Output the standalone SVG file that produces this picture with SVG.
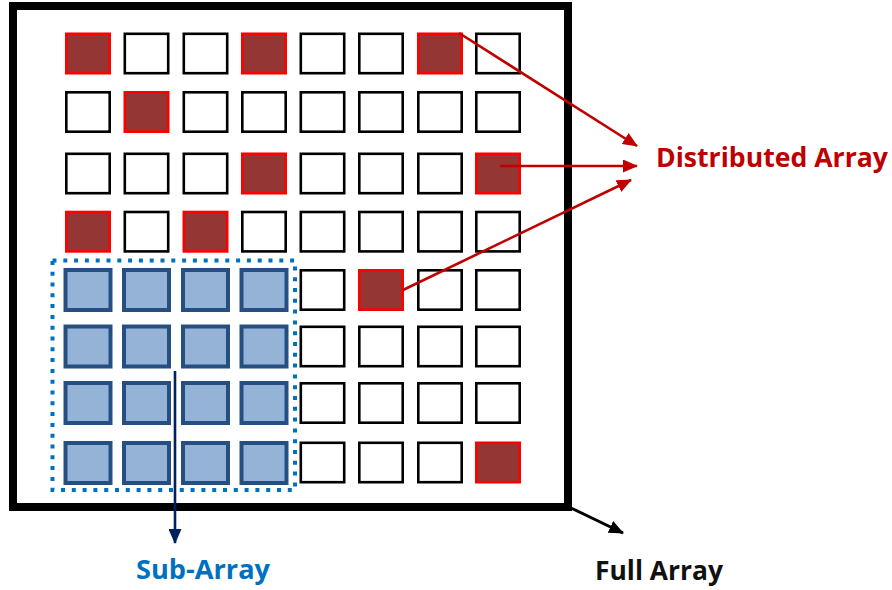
<svg xmlns="http://www.w3.org/2000/svg" width="892" height="590" viewBox="0 0 892 590">
  <style>
    .c { fill: #ffffff; stroke: #000000; stroke-width: 2.6; }
    .r { fill: #943634; stroke: #ff0000; stroke-width: 2.6; }
    .b { fill: #95b3d7; stroke: #254f80; stroke-width: 4; }
    .lbl { font-family: "Open Sans", "Liberation Sans", sans-serif; font-weight: bold; font-size: 26px; }
  </style>
  <defs>
    <marker id="ar" markerUnits="userSpaceOnUse" markerWidth="15" markerHeight="13" refX="14" refY="6.5" orient="auto">
      <path d="M0,0 L15,6.5 L0,13 Z" fill="#c00000"/>
    </marker>
    <marker id="an" markerUnits="userSpaceOnUse" markerWidth="15" markerHeight="13" refX="14" refY="6.5" orient="auto">
      <path d="M0,0 L15,6.5 L0,13 Z" fill="#002060"/>
    </marker>
    <marker id="ak" markerUnits="userSpaceOnUse" markerWidth="15" markerHeight="13" refX="14" refY="6.5" orient="auto">
      <path d="M0,0 L15,6.5 L0,13 Z" fill="#000000"/>
    </marker>
    <rect id="cell" x="-21.7" y="-19.7" width="43.4" height="39.4"/>
    <rect id="bcell" x="-22.5" y="-20" width="45" height="40"/>
  </defs>

  <g id="full-array">
    <rect x="13" y="6" width="555" height="501" fill="#ffffff" stroke="#000000" stroke-width="8"/>
  </g>

  <g id="grid">
    <!-- row 1 -->
    <use href="#cell" class="r" x="88" y="53.5"/>
    <use href="#cell" class="c" x="146.5" y="53.5"/>
    <use href="#cell" class="c" x="205.5" y="53.5"/>
    <use href="#cell" class="r" x="264" y="53.5"/>
    <use href="#cell" class="c" x="322.5" y="53.5"/>
    <use href="#cell" class="c" x="381" y="53.5"/>
    <use href="#cell" class="r" x="440" y="53.5"/>
    <use href="#cell" class="c" x="498" y="53.5"/>
    <!-- row 2 -->
    <use href="#cell" class="c" x="88" y="112"/>
    <use href="#cell" class="r" x="146.5" y="112"/>
    <use href="#cell" class="c" x="205.5" y="112"/>
    <use href="#cell" class="c" x="264" y="112"/>
    <use href="#cell" class="c" x="322.5" y="112"/>
    <use href="#cell" class="c" x="381" y="112"/>
    <use href="#cell" class="c" x="440" y="112"/>
    <use href="#cell" class="c" x="498" y="112"/>
    <!-- row 3 -->
    <use href="#cell" class="c" x="88" y="173.5"/>
    <use href="#cell" class="c" x="146.5" y="173.5"/>
    <use href="#cell" class="c" x="205.5" y="173.5"/>
    <use href="#cell" class="r" x="264" y="173.5"/>
    <use href="#cell" class="c" x="322.5" y="173.5"/>
    <use href="#cell" class="c" x="381" y="173.5"/>
    <use href="#cell" class="c" x="440" y="173.5"/>
    <use href="#cell" class="r" x="498" y="173.5"/>
    <!-- row 4 -->
    <use href="#cell" class="r" x="88" y="231.7"/>
    <use href="#cell" class="c" x="146.5" y="231.7"/>
    <use href="#cell" class="r" x="205.5" y="231.7"/>
    <use href="#cell" class="c" x="264" y="231.7"/>
    <use href="#cell" class="c" x="322.5" y="231.7"/>
    <use href="#cell" class="c" x="381" y="231.7"/>
    <use href="#cell" class="c" x="440" y="231.7"/>
    <use href="#cell" class="c" x="498" y="231.7"/>
    <!-- row 5 -->
    <use href="#cell" class="c" x="322.5" y="290"/>
    <use href="#cell" class="r" x="381" y="290"/>
    <use href="#cell" class="c" x="440" y="290"/>
    <use href="#cell" class="c" x="498" y="290"/>
    <!-- row 6 -->
    <use href="#cell" class="c" x="322.5" y="346.5"/>
    <use href="#cell" class="c" x="381" y="346.5"/>
    <use href="#cell" class="c" x="440" y="346.5"/>
    <use href="#cell" class="c" x="498" y="346.5"/>
    <!-- row 7 -->
    <use href="#cell" class="c" x="322.5" y="403"/>
    <use href="#cell" class="c" x="381" y="403"/>
    <use href="#cell" class="c" x="440" y="403"/>
    <use href="#cell" class="c" x="498" y="403"/>
    <!-- row 8 -->
    <use href="#cell" class="c" x="322.5" y="462.5"/>
    <use href="#cell" class="c" x="381" y="462.5"/>
    <use href="#cell" class="c" x="440" y="462.5"/>
    <use href="#cell" class="r" x="498" y="462.5"/>
  </g>

  <g id="sub-array">
    <use href="#bcell" class="b" x="88" y="290"/>
    <use href="#bcell" class="b" x="146.5" y="290"/>
    <use href="#bcell" class="b" x="205.5" y="290"/>
    <use href="#bcell" class="b" x="264" y="290"/>
    <use href="#bcell" class="b" x="88" y="346.5"/>
    <use href="#bcell" class="b" x="146.5" y="346.5"/>
    <use href="#bcell" class="b" x="205.5" y="346.5"/>
    <use href="#bcell" class="b" x="264" y="346.5"/>
    <use href="#bcell" class="b" x="88" y="403"/>
    <use href="#bcell" class="b" x="146.5" y="403"/>
    <use href="#bcell" class="b" x="205.5" y="403"/>
    <use href="#bcell" class="b" x="264" y="403"/>
    <use href="#bcell" class="b" x="88" y="463"/>
    <use href="#bcell" class="b" x="146.5" y="463"/>
    <use href="#bcell" class="b" x="205.5" y="463"/>
    <use href="#bcell" class="b" x="264" y="463"/>
    <rect x="52.5" y="260.5" width="242.5" height="229.5" fill="none" stroke="#0070c0" stroke-width="4" stroke-dasharray="4 6.8"/>
  </g>

  <g id="connectors">
    <line x1="459" y1="33" x2="637" y2="146" stroke="#c00000" stroke-width="2.6" marker-end="url(#ar)"/>
    <line x1="500" y1="166" x2="637" y2="166" stroke="#c00000" stroke-width="2.6" marker-end="url(#ar)"/>
    <line x1="403" y1="290" x2="631" y2="180" stroke="#c00000" stroke-width="2.6" marker-end="url(#ar)"/>
    <line x1="175" y1="371" x2="175" y2="543" stroke="#002060" stroke-width="2.6" marker-end="url(#an)"/>
    <line x1="571" y1="508" x2="623" y2="533" stroke="#000000" stroke-width="3" marker-end="url(#ak)"/>
  </g>

  <g id="labels">
    <text class="lbl" x="656" y="167" fill="#c00000" textLength="232" lengthAdjust="spacingAndGlyphs">Distributed Array</text>
    <text class="lbl" x="136" y="579" fill="#0070c0" textLength="134" lengthAdjust="spacingAndGlyphs">Sub-Array</text>
    <text class="lbl" x="595" y="580" fill="#111111" textLength="128" lengthAdjust="spacingAndGlyphs">Full Array</text>
  </g>
</svg>
